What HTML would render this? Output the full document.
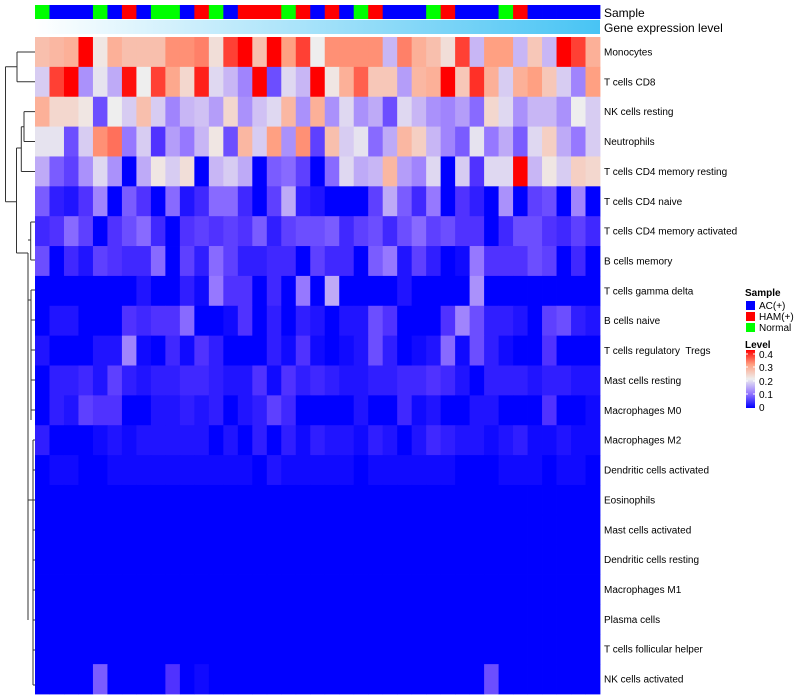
<!DOCTYPE html>
<html><head><meta charset="utf-8"><style>
body{margin:0;background:#fff;}
svg{display:block;font-family:"Liberation Sans",sans-serif;}
#rowlabels text{white-space:pre;}
</style></head><body>
<svg id="chart" width="800" height="700" viewBox="0 0 800 700" xmlns="http://www.w3.org/2000/svg">
<g id="ann"></g>
<g id="cells"></g>
<g id="rowlabels"></g>
<g id="dendro" stroke="#333" stroke-width="1" fill="none">
<path d="M5.5 66.7V201.7M5.5 66.7H17M5.5 201.7H16.5M17 52V81.8M17 52H35M17 81.8H35M16.5 148V253M16.5 148H21.3M21.3 126.7V171.5M21.3 126.7H24M24 111.6V141.5M24 111.6H35M24 141.5H35M21.3 171.5H35M16.5 253H28M28 253V620M30.7 222V260M28 240H30.7M30.7 222H35M30.7 260H35M28 300H31M31 290V420M31 290H35M31 320H35M31 350H35M31 380H35M31 410H35M28 500H33M33 440V685M33 440H35M33 470H35M33 500H35M33 530H35M33 560H35M33 590H35M33 620H35M33 650H35M33 685H35" />
</g>
<text x="604" y="17" font-size="12">Sample</text>
<text x="604" y="32" font-size="12">Gene expression level</text>
<defs>
<linearGradient id="gexp" x1="0" x2="1" y1="0" y2="0"><stop offset="0" stop-color="#ffffff"/><stop offset="1" stop-color="#48c4f4"/></linearGradient>
<linearGradient id="lvl" x1="0" x2="0" y1="1" y2="0">
<stop offset="0" stop-color="#0000ff"/><stop offset="0.25" stop-color="#9678ff"/><stop offset="0.5" stop-color="#eeeeee"/><stop offset="0.75" stop-color="#ffa082"/><stop offset="1" stop-color="#ff0000"/></linearGradient>
</defs>
<rect x="35" y="20" width="565" height="14" fill="url(#gexp)"/>
<g font-size="10">
<text x="745" y="296" font-weight="bold">Sample</text>
<rect x="746" y="301" width="9" height="9" fill="#0000ff"/>
<text x="759" y="309">AC(+)</text>
<rect x="746" y="312" width="9" height="9" fill="#ff0000"/>
<text x="759" y="320">HAM(+)</text>
<rect x="746" y="323" width="9" height="9" fill="#00ff00"/>
<text x="759" y="331">Normal</text>
<text x="745" y="348" font-weight="bold">Level</text>
<rect x="746" y="350" width="9" height="58" fill="url(#lvl)"/>
<g stroke="#fff" stroke-width="1"><line x1="746" x2="748" y1="354" y2="354"/><line x1="753" x2="755" y1="354" y2="354"/><line x1="746" x2="748" y1="367" y2="367"/><line x1="753" x2="755" y1="367" y2="367"/><line x1="746" x2="748" y1="381" y2="381"/><line x1="753" x2="755" y1="381" y2="381"/><line x1="746" x2="748" y1="394" y2="394"/><line x1="753" x2="755" y1="394" y2="394"/></g>
<text x="759" y="358">0.4</text>
<text x="759" y="371">0.3</text>
<text x="759" y="385">0.2</text>
<text x="759" y="398">0.1</text>
<text x="759" y="411">0</text>
</g>
</svg>
<script>
const rowNames = ["Monocytes","T cells CD8","NK cells resting","Neutrophils","T cells CD4 memory resting","T cells CD4 naive","T cells CD4 memory activated","B cells memory","T cells gamma delta","B cells naive","T cells regulatory  Tregs","Mast cells resting","Macrophages M0","Macrophages M2","Dendritic cells activated","Eosinophils","Mast cells activated","Dendritic cells resting","Macrophages M1","Plasma cells","T cells follicular helper","NK cells activated"];
const sampleGroups = "GBBBGBRBGGBRGBRRRGRBRBGRBBBGRBBBGRBBBBB".split("");
const z39 = () => Array(39).fill(0);
const rowMonocytes = [0.26,0.27,0.28,0.4,0.21,0.28,0.26,0.26,0.26,0.31,0.31,0.32,0.22,0.36,0.4,0.26,0.4,0.3,0.36,0.2,0.31,0.31,0.31,0.31,0.15,0.32,0.28,0.26,0.22,0.36,0.15,0.3,0.3,0.15,0.25,0.15,0.4,0.36,0.28];
const rowCD8 = [0.17,0.36,0.4,0.12,0.19,0.14,0.39,0.2,0.36,0.29,0.23,0.38,0.18,0.15,0.11,0.4,0.07,0.18,0.15,0.4,0.21,0.28,0.34,0.25,0.25,0.13,0.27,0.28,0.4,0.25,0.37,0.28,0.17,0.28,0.3,0.25,0.17,0.11,0.3];
const rowNKrest = [0.28,0.23,0.23,0.21,0.07,0.2,0.17,0.26,0.17,0.11,0.15,0.16,0.13,0.23,0.12,0.16,0.18,0.27,0.12,0.28,0.12,0.18,0.12,0.14,0.07,0.18,0.15,0.12,0.11,0.13,0.09,0.23,0.18,0.12,0.15,0.15,0.12,0.2,0.17];
const rowNeut = [0.19,0.19,0.07,0.17,0.31,0.33,0.1,0.17,0.05,0.13,0.1,0.15,0.21,0.07,0.27,0.17,0.3,0.12,0.31,0.06,0.26,0.17,0.19,0.09,0.14,0.27,0.24,0.15,0.11,0.08,0.19,0.1,0.14,0.08,0.18,0.24,0.14,0.1,0.17];
const rowCD4memRest = [0.14,0.08,0.06,0.12,0.18,0.12,0,0.14,0.21,0.17,0.22,0,0.15,0.17,0.14,0,0.08,0.09,0.06,0,0.09,0.18,0.14,0.15,0.27,0.13,0.11,0.18,0,0.17,0.05,0.18,0.18,0.4,0.15,0.21,0.17,0.24,0.23];
const rowCD4naive = [0.08,0.03,0.02,0.05,0.11,0,0.08,0.05,0,0.09,0.02,0.04,0.09,0.09,0.04,0,0.06,0.14,0.03,0.02,0,0,0,0.06,0.14,0.08,0.04,0.1,0,0.05,0.03,0,0.12,0,0.06,0.07,0,0.11,0];
const rowCD4memAct = [0.04,0.05,0.09,0.06,0,0.05,0.07,0.09,0.04,0,0.05,0.06,0.05,0.06,0.05,0.08,0.03,0.06,0.07,0.07,0.08,0.04,0.06,0.07,0.04,0.07,0.09,0.06,0.07,0.05,0.05,0,0.04,0.07,0.07,0.05,0.04,0.06,0.04];
const rowBmem = [0.07,0,0.04,0.02,0.06,0.05,0.04,0.04,0.09,0,0.06,0.03,0.09,0.06,0.03,0.03,0.04,0.04,0,0.06,0.04,0.04,0,0.08,0.1,0.02,0.06,0.03,0,0.01,0.1,0.05,0.05,0.05,0.07,0.06,0,0.04,0];
const rowGammaDelta = [0,0,0,0,0,0,0,0.02,0,0,0.03,0.01,0.1,0.05,0.05,0,0.04,0,0.1,0,0.14,0,0,0,0,0.02,0,0,0,0,0.12,0,0,0,0,0,0,0,0];
const rowBnaive = [0,0.02,0.02,0,0,0,0.05,0.04,0.05,0.05,0.09,0,0,0.01,0.05,0,0.03,0,0.03,0.02,0,0.02,0.02,0.07,0.05,0,0,0,0.05,0.11,0.07,0.03,0.03,0.02,0,0.06,0.07,0.03,0.02];
const rowTregs = [0.02,0,0,0,0.02,0.02,0.11,0.01,0,0.04,0.01,0.05,0.03,0,0,0,0.03,0.01,0.05,0.01,0,0.01,0.02,0.07,0.03,0,0.01,0.02,0.09,0.01,0.07,0.03,0.01,0,0,0.05,0,0,0];
const rowMastRest = [0,0.03,0.03,0.04,0.02,0.06,0.03,0.02,0.03,0.03,0.04,0.04,0.03,0.02,0.02,0.05,0.01,0.05,0.03,0.04,0.03,0.02,0.02,0.03,0.03,0.04,0.04,0.05,0.04,0.02,0,0.03,0.03,0.03,0.02,0.03,0.03,0.02,0.02];
const rowM0 = [0,0.03,0.02,0.06,0.05,0.05,0,0,0.02,0.02,0.03,0.02,0.03,0,0.02,0.03,0.06,0.04,0,0,0,0,0.02,0,0,0.04,0.01,0.02,0,0,0.02,0.02,0,0,0,0.05,0,0,0.01];
const rowM2 = [0.03,0,0,0,0.01,0.02,0.01,0.02,0.02,0.02,0.02,0.02,0,0.02,0,0.03,0,0.03,0.01,0.03,0.02,0.02,0.01,0.03,0.02,0,0.02,0.04,0.03,0.02,0.02,0.01,0.02,0.03,0.01,0.01,0.02,0.01,0.01];
const rowDCact = [0,0.01,0.01,0,0,0.01,0.01,0.01,0.01,0.01,0.01,0.01,0.01,0.01,0.01,0,0.02,0.01,0.01,0.01,0.01,0.01,0,0.01,0.01,0.01,0.01,0.01,0.01,0,0,0,0.01,0.01,0.01,0,0.01,0.01,0];
const rowNKact = [0,0,0,0,0.08,0,0,0,0,0.05,0,0.01,0,0,0,0,0,0,0,0,0,0,0,0,0,0,0,0,0,0,0,0.07,0,0,0,0,0,0,0];
const values = [rowMonocytes,rowCD8,rowNKrest,rowNeut,rowCD4memRest,rowCD4naive,rowCD4memAct,rowBmem,rowGammaDelta,rowBnaive,rowTregs,rowMastRest,rowM0,rowM2,rowDCact,z39(),z39(),z39(),z39(),z39(),z39(),rowNKact];

const X0=35, X1=600, Y0=37, Y1=694;
const nCol = sampleGroups.length, nRow = rowNames.length;
const cw = (X1-X0)/nCol, rh = (Y1-Y0)/nRow;
const xPos = c => X0 + c*cw;
const yPos = r => Y0 + r*rh;
const stops = [[0,[0,0,255]],[0.05,[80,50,255]],[0.1,[150,120,255]],[0.15,[200,182,245]],[0.2,[238,238,238]],[0.3,[255,160,130]],[0.4,[255,0,0]]];
function color(v){
  v=Math.max(0,Math.min(0.4,v));
  for(let i=1;i<stops.length;i++){
    if(v<=stops[i][0]){const [a,ca]=stops[i-1],[b,cb]=stops[i];const t=(v-a)/(b-a);
      return 'rgb('+ca.map((x,k)=>Math.round(x+(cb[k]-x)*t)).join(',')+')';}
  }
  return 'rgb(255,0,0)';
}
const NS="http://www.w3.org/2000/svg";
const groupColor={G:"#00ff00",B:"#0000ff",R:"#ff0000"};
const ann=document.getElementById('ann');
sampleGroups.forEach((g,c)=>{
  const r=document.createElementNS(NS,'rect');
  r.setAttribute('x',xPos(c));r.setAttribute('y',5);r.setAttribute('width',cw+0.4);r.setAttribute('height',14);
  r.setAttribute('fill',groupColor[g]);
  
  
  ann.appendChild(r);
});
const cells=document.getElementById('cells');
values.forEach((row,ri)=>{
  row.forEach((v,c)=>{
    const r=document.createElementNS(NS,'rect');
    r.setAttribute('x',xPos(c));r.setAttribute('y',yPos(ri));r.setAttribute('width',cw+0.4);r.setAttribute('height',rh+0.4);
    r.setAttribute('fill',color(v));
    
    
    cells.appendChild(r);
  });
});
const rl=document.getElementById('rowlabels');
rowNames.forEach((n,ri)=>{
  const t=document.createElementNS(NS,'text');
  t.setAttribute('x',604);t.setAttribute('y',yPos(ri)+rh/2+3.5);t.setAttribute('font-size','10');
  t.textContent=n;
  
  
  rl.appendChild(t);
});
</script>
</body></html>
